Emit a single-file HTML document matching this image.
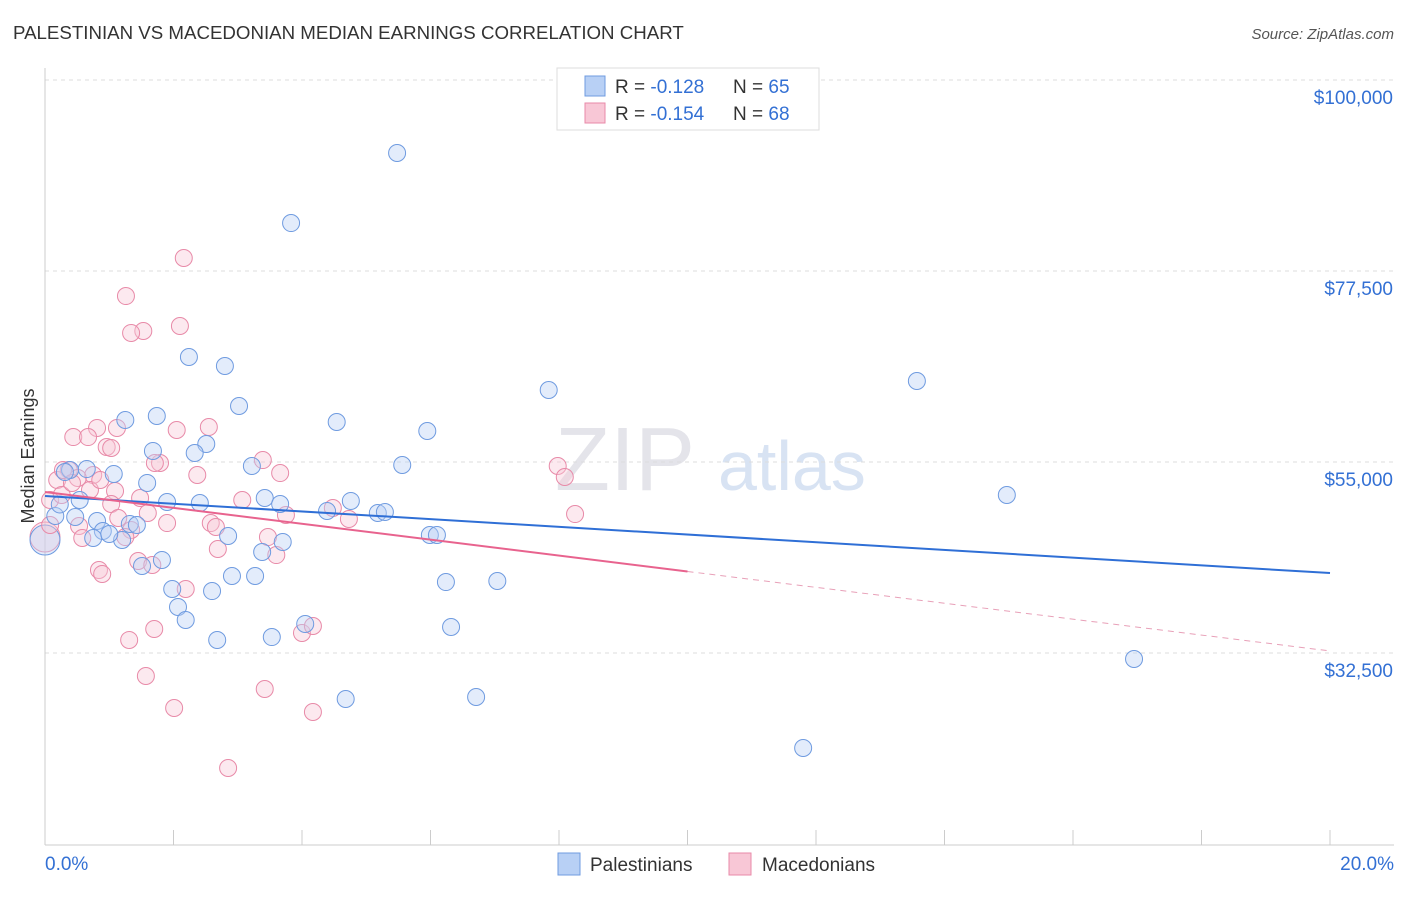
<!DOCTYPE html>
<html><head><meta charset="utf-8"><style>
body{margin:0;background:#fff;font-family:"Liberation Sans",sans-serif;}
svg text{font-family:"Liberation Sans",sans-serif;}
</style></head><body>
<svg id="chart" width="1406" height="892">
<text x="13" y="39" font-size="18.7" fill="#333">PALESTINIAN VS MACEDONIAN MEDIAN EARNINGS CORRELATION CHART</text>
<text x="1394" y="39" font-size="15" fill="#555" font-style="italic" text-anchor="end">Source: ZipAtlas.com</text>
<text x="34" y="456" font-size="18" fill="#333" text-anchor="middle" transform="rotate(-90 34 456)">Median Earnings</text>
<text x="555" y="490" font-size="90" fill="#e4e4ea" font-family="Liberation Serif">ZIP</text>
<text x="718" y="490" font-size="70" fill="#d8e3f3">atlas</text>
<g id="grid"></g><g id="pts"></g><g id="trend"></g>
<g>
<rect x="557" y="68" width="262" height="62" fill="#fff" stroke="#ddd"/>
<rect x="585" y="76" width="20" height="20" fill="#b8d0f5" stroke="#6f9be0"/>
<rect x="585" y="103" width="20" height="20" fill="#f8c7d6" stroke="#e88aa8"/>
<text x="615" y="93" font-size="19" fill="#333">R = <tspan fill="#3370d4">-0.128</tspan></text>
<text x="733" y="93" font-size="19" fill="#333">N = <tspan fill="#3370d4">65</tspan></text>
<text x="615" y="120" font-size="19" fill="#333">R = <tspan fill="#3370d4">-0.154</tspan></text>
<text x="733" y="120" font-size="19" fill="#333">N = <tspan fill="#3370d4">68</tspan></text>
</g>
<g>
<rect x="558" y="853" width="22" height="22" fill="#b8d0f5" stroke="#6f9be0"/>
<text x="590" y="871" font-size="19" fill="#333">Palestinians</text>
<rect x="729" y="853" width="22" height="22" fill="#f8c7d6" stroke="#e88aa8"/>
<text x="762" y="871" font-size="19" fill="#333">Macedonians</text>
</g>
</svg>
<script>
const yTicks=[32500,55000,77500,100000];
const yTickLabels=["$32,500","$55,000","$77,500","$100,000"];
const xTickLabels=["0.0%","20.0%"];
const blueX=[5.48,3.83,2.24,2.80,7.84,13.57,3.02,1.74,1.25,4.54,5.95,2.51,1.68,2.33,5.56,3.22,1.07,0.65,1.59,0.39,14.97,0.54,1.90,2.41,3.42,3.66,4.76,4.39,5.18,5.29,0.16,0.47,0.81,1.32,1.43,0.90,2.85,0.75,1.20,5.99,6.10,3.70,3.38,1.82,1.51,2.91,3.27,6.24,7.04,1.98,2.60,2.07,2.19,4.05,6.32,2.68,3.53,16.95,4.68,6.71,11.80,0.23,0.31,1.0];
const blueY=[91400,83150,67370,66310,63480,64540,61600,60420,59950,59710,58650,57120,56300,56060,54650,54530,53590,54170,52530,54060,51110,50520,50290,50170,50760,50050,50410,49230,48990,49110,48640,48520,48050,47700,47580,46870,46280,46050,45810,46400,46400,45580,44400,43460,42750,41570,41570,40860,40980,40040,39800,37920,36390,35920,35560,34030,34380,31790,27080,27320,21310,50000,53820,46520];
const pinkX=[2.16,1.26,2.10,1.53,1.34,2.55,2.05,0.81,0.44,0.67,1.12,0.96,1.03,3.39,1.79,1.71,7.98,8.09,3.66,0.37,0.75,0.51,0.19,0.28,0.70,1.09,1.48,1.03,3.07,4.48,0.08,3.75,4.73,8.25,1.60,1.14,1.90,2.58,2.66,1.34,0.53,3.47,0.58,1.25,2.69,3.60,1.45,1.67,0.84,0.89,2.19,1.31,1.70,4.00,4.17,1.57,3.42,2.01,4.17,2.85,0.08,0.26,0.42,0.86,2.37];
const pinkY=[79030,74550,71020,70430,70200,59120,58770,59010,57940,57940,59010,56770,56650,55230,54880,54880,54530,53230,53700,54060,53470,53120,52880,54060,51700,51580,50760,50050,50520,49580,50520,48760,48290,48870,48990,48400,47810,47810,47340,46990,47460,46160,46050,46160,44750,44040,43340,42870,42280,41810,40040,34030,35330,34860,35680,29790,28260,26020,25550,18950,47580,51110,52530,52880,53470];
const bigBlue=[0,45810], bigPink=[0,46160];
const blueTrend=[50990,41920], pinkTrend=[51470,32740];
const ns="http://www.w3.org/2000/svg";
const X=p=>45+p*1285/20, Y=v=>653-(v-32500)*191/22500;
function mk(t,a,par){const e=document.createElementNS(ns,t);for(const k in a)e.setAttribute(k,a[k]);document.getElementById(par).appendChild(e);return e;}
yTicks.forEach((v,i)=>{
 const l=mk('line',{x1:45,x2:1394,y1:Y(v),y2:Y(v),stroke:'#ddd','stroke-dasharray':'4,4'},'grid');
 
 
 const t=mk('text',{x:1393,y:Y(v)+24,'font-size':19,fill:'#3370d4','text-anchor':'end'},'grid');t.textContent=yTickLabels[i];
 
 
});
const ax=mk('line',{x1:45,x2:1394,y1:845,y2:845,stroke:'#ccc'},'grid');


const ay=mk('line',{x1:45,x2:45,y1:68,y2:845,stroke:'#ccc'},'grid');


for(let i=0;i<=10;i++){const t=mk('line',{x1:X(i*2),x2:X(i*2),y1:830,y2:845,stroke:'#ccc'},'grid');
 
 }
[[0,'start',45],[20,'end',1394]].forEach((d,i)=>{const t=mk('text',{x:d[2],y:870,'font-size':19,fill:'#3370d4','text-anchor':d[1]},'grid');t.textContent=xTickLabels[i];
 
 });
function dot(x,y,r,f,s,n){const c=mk('circle',{cx:X(x),cy:Y(y),r:r,fill:f,'fill-opacity':0.4,stroke:s,'stroke-width':1},'pts');
 
 }
dot(bigPink[0],bigPink[1],15,'#f8c7d6','#e88aa8','macedonian-point');
dot(bigBlue[0],bigBlue[1],15,'#b8d0f5','#6f9be0','palestinian-point');
pinkX.forEach((x,i)=>dot(x,pinkY[i],8.5,'#f8c7d6','#e88aa8','macedonian-point'));
blueX.forEach((x,i)=>dot(x,blueY[i],8.5,'#b8d0f5','#6f9be0','palestinian-point'));
const bt=mk('line',{x1:X(0),y1:Y(blueTrend[0]),x2:X(20),y2:Y(blueTrend[1]),stroke:'#2f6fd6','stroke-width':2},'trend');


const pm=pinkTrend[0]+(pinkTrend[1]-pinkTrend[0])*0.5;
const pt=mk('line',{x1:X(0),y1:Y(pinkTrend[0]),x2:X(10),y2:Y(pm),stroke:'#e8638e','stroke-width':2},'trend');


const pd=mk('line',{x1:X(10),y1:Y(pm),x2:X(20),y2:Y(pinkTrend[1]),stroke:'#e8a0b8','stroke-width':1,'stroke-dasharray':'6,5'},'trend');


</script>
</body></html>
